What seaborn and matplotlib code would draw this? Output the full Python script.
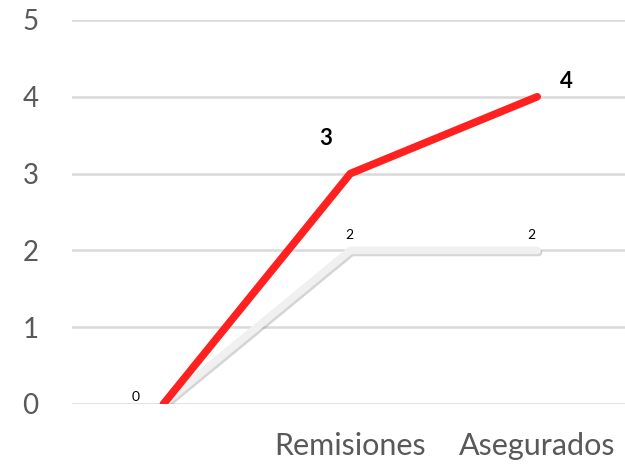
import matplotlib
matplotlib.use("Agg")
import matplotlib.pyplot as plt
import matplotlib.patheffects as pe
import pandas as pd
import seaborn as sns

categories = ["", "Remisiones", "Asegurados"]
serie_roja = [0, 3, 4]
serie_gris = [0, 2, 2]

df = pd.DataFrame({
    "categoria": categories * 2,
    "valor": serie_roja + serie_gris,
    "serie": ["roja"] * 3 + ["gris"] * 3,
})

sns.set_style("white")
plt.rcParams["font.family"] = ["Lato", "DejaVu Sans"]

fig = plt.figure(figsize=(6.25, 4.68), dpi=100)
ax = fig.add_axes([0.115, 0.1368, 0.885, 0.8205])

x_pos = list(range(len(categories)))

# gray line with soft shadow first, red on top
ax.plot(x_pos, serie_gris, color="#F0F0F0", lw=5.5, solid_capstyle="round", zorder=3,
        path_effects=[pe.SimpleLineShadow(offset=(1, -1.5), shadow_color="#888888", alpha=0.35),
                      pe.Normal()])
sns.lineplot(data=df[df["serie"] == "roja"], x="categoria", y="valor", sort=False,
             color="#FF2020", lw=5.5, ax=ax, zorder=4)
for line in ax.lines[1:]:
    line.set_solid_capstyle("round")
    line.set_solid_joinstyle("round")

ax.set_xlim(-0.49, 2.47)
ax.set_ylim(0, 5)
ax.set_yticks(range(6))
ax.grid(axis="y", color="#D9D9D9", lw=1.8)
ax.set_axisbelow(True)
for s in ax.spines.values():
    s.set_visible(False)
ax.set_xlabel("")
ax.set_ylabel("")
ax.tick_params(axis="y", length=0, labelsize=20, labelcolor="#595959", pad=24)
ax.tick_params(axis="x", length=0, labelsize=22, labelcolor="#595959", pad=20)
ax.set_xticks(x_pos)
ax.set_xticklabels(categories)

# data labels
ax.annotate("0", (0, serie_gris[0]), xytext=(-20, 5), textcoords="offset points",
            ha="center", va="center", fontsize=10, color="black")
for i in (1, 2):
    ax.annotate(str(serie_gris[i]), (i, serie_gris[i]), xytext=(-1 if i == 1 else -4, 11),
                textcoords="offset points", ha="center", va="center", fontsize=10, color="black")
ax.annotate(str(serie_roja[1]), (1, serie_roja[1]), xytext=(-18, 25), textcoords="offset points",
            ha="center", va="center", fontsize=16, fontweight="bold", color="black")
ax.annotate(str(serie_roja[2]), (2, serie_roja[2]), xytext=(21, 11), textcoords="offset points",
            ha="center", va="center", fontsize=16, fontweight="bold", color="black")

fig.savefig("out.png", dpi=100)
